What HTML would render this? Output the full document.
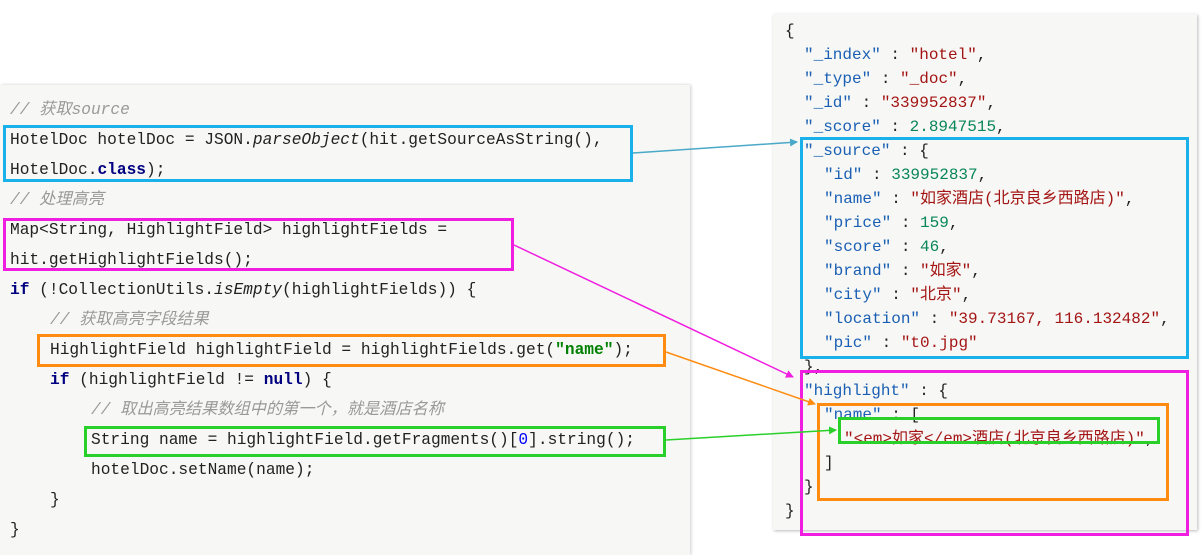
<!DOCTYPE html>
<html><head><meta charset="utf-8"><style>
body{margin:0;width:1204px;height:544px;background:#fff;position:relative;overflow:hidden;font-family:"Liberation Mono","Noto Sans CJK SC",monospace;}
.lp{position:absolute;left:0;top:85px;width:690px;height:470px;background:#f7f8f5;box-shadow:1px 0 3px #ccc;}
.rp{position:absolute;left:773px;top:14px;width:424px;height:516px;background:#f7f8f5;box-shadow:1px 1px 3px #bbb;}
.l{position:absolute;font-size:16.2px;color:#222;white-space:pre;line-height:20px;}
.c{color:#999;font-style:italic;}
.k{color:#000080;font-weight:bold;}
.s{color:#008000;font-weight:bold;}
.n{color:#0000ff;}
.j{position:absolute;font-size:16px;white-space:pre;line-height:20px;color:#222;}
.key{color:#1a5fb4;}
.str{color:#a31515;}
.num{color:#098658;}
.b{position:absolute;box-sizing:border-box;border:3px solid;}
</style></head><body>
<div class="lp"></div>
<div class="rp"></div>
<div class="l c" style="left:10px;top:100px">// 获取source</div>
<div class="l" style="left:10px;top:130px">HotelDoc hotelDoc = JSON.<i>parseObject</i>(hit.getSourceAsString(),</div>
<div class="l" style="left:10px;top:160px">HotelDoc.<span class="k">class</span>);</div>
<div class="l c" style="left:10px;top:190px">// 处理高亮</div>
<div class="l" style="left:10px;top:220px">Map&lt;String, HighlightField&gt; highlightFields =</div>
<div class="l" style="left:10px;top:250px">hit.getHighlightFields();</div>
<div class="l" style="left:10px;top:280px"><span class="k">if</span> (!CollectionUtils.<i>isEmpty</i>(highlightFields)) {</div>
<div class="l c" style="left:50px;top:310px">// 获取高亮字段结果</div>
<div class="l" style="left:50px;top:340px">HighlightField highlightField = highlightFields.get(<span class="s">"name"</span>);</div>
<div class="l" style="left:50px;top:370px"><span class="k">if</span> (highlightField != <span class="k">null</span>) {</div>
<div class="l c" style="left:91px;top:400px">// 取出高亮结果数组中的第一个，就是酒店名称</div>
<div class="l" style="left:91px;top:430px">String name = highlightField.getFragments()[<span class="n">0</span>].string();</div>
<div class="l" style="left:91px;top:460px">hotelDoc.setName(name);</div>
<div class="l" style="left:50px;top:490px">}</div>
<div class="l" style="left:10px;top:520px">}</div>

<div class="j" style="left:785px;top:21px">{</div>
<div class="j" style="left:804px;top:45px"><span class="key">"_index"</span> : <span class="str">"hotel"</span>,</div>
<div class="j" style="left:804px;top:69px"><span class="key">"_type"</span> : <span class="str">"_doc"</span>,</div>
<div class="j" style="left:804px;top:93px"><span class="key">"_id"</span> : <span class="str">"339952837"</span>,</div>
<div class="j" style="left:804px;top:117px"><span class="key">"_score"</span> : <span class="num">2.8947515</span>,</div>
<div class="j" style="left:804px;top:141px"><span class="key">"_source"</span> : {</div>
<div class="j" style="left:824px;top:165px"><span class="key">"id"</span> : <span class="num">339952837</span>,</div>
<div class="j" style="left:824px;top:189px"><span class="key">"name"</span> : <span class="str">"如家酒店(北京良乡西路店)"</span>,</div>
<div class="j" style="left:824px;top:213px"><span class="key">"price"</span> : <span class="num">159</span>,</div>
<div class="j" style="left:824px;top:237px"><span class="key">"score"</span> : <span class="num">46</span>,</div>
<div class="j" style="left:824px;top:261px"><span class="key">"brand"</span> : <span class="str">"如家"</span>,</div>
<div class="j" style="left:824px;top:285px"><span class="key">"city"</span> : <span class="str">"北京"</span>,</div>
<div class="j" style="left:824px;top:309px"><span class="key">"location"</span> : <span class="str">"39.73167, 116.132482"</span>,</div>
<div class="j" style="left:824px;top:333px"><span class="key">"pic"</span> : <span class="str">"t0.jpg"</span></div>
<div class="j" style="left:804px;top:357px">},</div>
<div class="j" style="left:804px;top:381px"><span class="key">"highlight"</span> : {</div>
<div class="j" style="left:824px;top:405px"><span class="key">"name"</span> : [</div>
<div class="j" style="left:844px;top:429px"><span class="str">"&lt;em&gt;如家&lt;/em&gt;酒店(北京良乡西路店)"</span>,</div>
<div class="j" style="left:824px;top:453px">]</div>
<div class="j" style="left:804px;top:477px">}</div>
<div class="j" style="left:785px;top:501px">}</div>

<div class="b" style="left:3px;top:125px;width:630px;height:57px;border-color:#1ab0ea"></div>
<div class="b" style="left:800px;top:137px;width:389px;height:222px;border-color:#1ab0ea"></div>
<div class="b" style="left:3px;top:218px;width:511px;height:53px;border-color:#f01ee0"></div>
<div class="b" style="left:800px;top:370px;width:389px;height:166px;border-color:#f01ee0"></div>
<div class="b" style="left:37px;top:334px;width:629px;height:33px;border-color:#ff8c10"></div>
<div class="b" style="left:817px;top:403px;width:352px;height:98px;border-color:#ff8c10"></div>
<div class="b" style="left:84px;top:426px;width:582px;height:31px;border-color:#2ad02a"></div>
<div class="b" style="left:838px;top:417px;width:322px;height:27px;border-color:#2ad02a"></div>

<svg width="1204" height="544" style="position:absolute;left:0;top:0">
<defs>
<marker id="mb" markerWidth="8" markerHeight="8" refX="7" refY="4" orient="auto" markerUnits="userSpaceOnUse"><path d="M0,0L8,4L0,8z" fill="#4aa8c8"/></marker>
<marker id="mm" markerWidth="8" markerHeight="8" refX="7" refY="4" orient="auto" markerUnits="userSpaceOnUse"><path d="M0,0L8,4L0,8z" fill="#f01ee0"/></marker>
<marker id="mo" markerWidth="8" markerHeight="8" refX="7" refY="4" orient="auto" markerUnits="userSpaceOnUse"><path d="M0,0L8,4L0,8z" fill="#ff8c10"/></marker>
<marker id="mg" markerWidth="8" markerHeight="8" refX="7" refY="4" orient="auto" markerUnits="userSpaceOnUse"><path d="M0,0L8,4L0,8z" fill="#2ad02a"/></marker>
</defs>
<line x1="633" y1="153" x2="797" y2="142" stroke="#4aa8c8" stroke-width="1.5" marker-end="url(#mb)"/>
<line x1="514" y1="245" x2="793" y2="377" stroke="#f01ee0" stroke-width="1.5" marker-end="url(#mm)"/>
<line x1="666" y1="352" x2="815" y2="404" stroke="#ff8c10" stroke-width="1.5" marker-end="url(#mo)"/>
<line x1="666" y1="440" x2="836" y2="430" stroke="#2ad02a" stroke-width="1.5" marker-end="url(#mg)"/>
</svg>
</body></html>
